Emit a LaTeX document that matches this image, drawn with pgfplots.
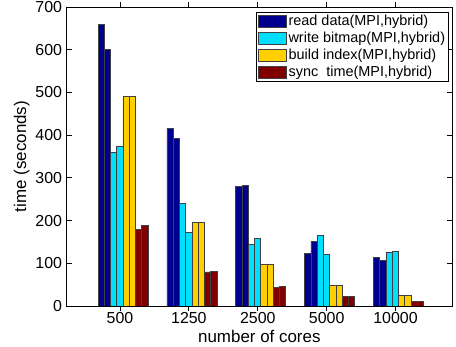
\documentclass[border=0pt]{standalone}
\usepackage{fontspec}
\setmainfont{Liberation Sans}
\usepackage{pgfplots}
\pgfplotsset{compat=1.18}
\definecolor{cblue}{RGB}{0,0,143}
\definecolor{ccyan}{RGB}{0,223,255}
\definecolor{cgold}{RGB}{255,207,0}
\definecolor{cred}{RGB}{128,0,0}
\begin{document}
\begin{tikzpicture}
\begin{axis}[
  scale only axis,
  width=385.3bp, height=299bp,
  xmin=-0.774, xmax=4.82,
  ymin=0, ymax=700,
  ytick={0,100,...,700},
  xtick={0,1,2,3,4},
  xticklabels={500,1250,2500,5000,10000},
  tick align=inside,
  tick pos=both,
  major tick length=5bp,
  axis line style={line width=0.9bp},
  every tick/.style={black, line width=0.8bp},
  /pgf/number format/assume math mode=true,
  tick label style={font=\fontsize{16}{19}\selectfont},
  xticklabel style={anchor=base, yshift=-12.2bp},
  yticklabel style={anchor=east, inner xsep=0pt, xshift=-4.5bp},
  xlabel={number of cores},
  ylabel={time (seconds)},
  every axis x label/.style={at={(axis description cs:0.5,0)}, anchor=base, yshift=-36.3bp, font=\fontsize{17}{20}\selectfont},
  every axis y label/.style={at={(axis description cs:-0.1168,0.5)}, rotate=90, anchor=center, font=\fontsize{17}{20}\selectfont},
  ybar,
  bar width=0.0907,
  every axis plot/.append style={draw=black!75, line width=0.6bp},
  legend style={at={(1,1)}, anchor=north east, xshift=-3bp, yshift=-5bp,
    font=\fontsize{14.5}{17}\selectfont, draw=black, line width=0.8bp,
    inner xsep=2bp, inner ysep=1.5bp, row sep=2bp,
    nodes={inner sep=1.5bp}},
  legend cell align=left,
  legend image code/.code={\draw[#1, line width=0.6bp] (0bp,-6bp) rectangle (28bp,6bp);},
]
% read data
\addplot[fill=cblue, bar shift=-0.274] coordinates {(0,660) (1,415) (2,280) (3,122.5) (4,114)};
\addlegendentry{read data(MPI,hybrid)}
% write bitmap
\addplot[fill=ccyan, bar shift=-0.093] coordinates {(0,359) (1,240) (2,144) (3,165.5) (4,126.4)};
\addlegendentry{write bitmap(MPI,hybrid)}
% build index
\addplot[fill=cgold, bar shift=0.088] coordinates {(0,490) (1,196) (2,97.6) (3,48.4) (4,24.2)};
\addlegendentry{build index(MPI,hybrid)}
% sync time
\addplot[fill=cred, bar shift=0.270] coordinates {(0,180) (1,80) (2,43.7) (3,21.9) (4,10)};
\addlegendentry{sync\ \ time(MPI,hybrid)}
% hybrid
\addplot[fill=cblue, bar shift=-0.183, forget plot] coordinates {(0,601) (1,392) (2,283) (3,152) (4,106)};
\addplot[fill=ccyan, bar shift=-0.002, forget plot] coordinates {(0,373) (1,172.6) (2,158) (3,120) (4,128)};
\addplot[fill=cgold, bar shift=0.179, forget plot] coordinates {(0,490) (1,196) (2,97.6) (3,48.4) (4,24.2)};
\addplot[fill=cred, bar shift=0.360, forget plot] coordinates {(0,188) (1,80.5) (2,45) (3,21.9) (4,10)};
\end{axis}
\pgfresetboundingbox
\path[use as bounding box] (-66.7bp,-41bp) rectangle (389.3bp,306bp);
\end{tikzpicture}
\end{document}
